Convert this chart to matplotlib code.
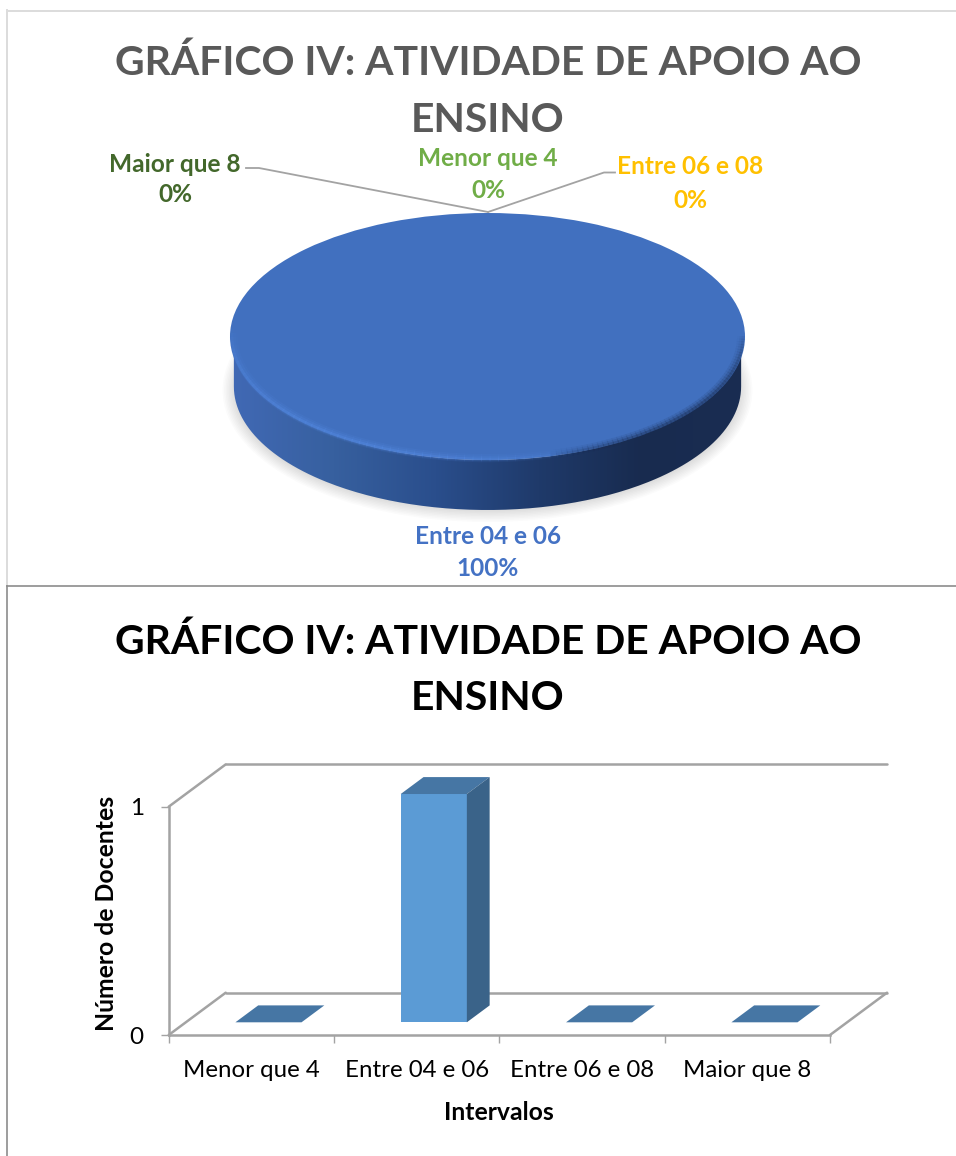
import numpy as np
import matplotlib
matplotlib.use('Agg')
import matplotlib.pyplot as plt
from matplotlib.colors import LinearSegmentedColormap
from matplotlib.patches import Ellipse, PathPatch
from matplotlib.path import Path

W, H = 956, 1156

title = 'GRÁFICO IV: ATIVIDADE DE\u00a0APOIO AO'
title2 = 'ENSINO'

# pie data
pie_names = ['Menor que 4', 'Entre 04 e 06', 'Entre 06 e 08', 'Maior que 8']
pie_values = [0, 100, 0, 0]
pie_colors = ['#70AD47', '#4472C4', '#FFC000', '#43682B']

# bar data
categories = ['Menor que 4', 'Entre 04 e 06', 'Entre 06 e 08', 'Maior que 8']
counts = [0, 1, 0, 0]

GRAY = '#A3A3A3'
plt.rcParams['font.family'] = ['Lato', 'DejaVu Sans']


def px(x):
    return x / W


def py(y):
    return 1 - y / H


def axes_px(x0, y0, x1, y1):
    # axes box given in picture pixels, y going down
    return fig.add_axes([px(x0), py(y1), px(x1 - x0), (y1 - y0) / H])


fig = plt.figure(figsize=(W / 100, H / 100), dpi=100, facecolor='white')

# frame lines around the two charts
frame = fig.add_axes([0, 0, 1, 1], zorder=-1)
frame.set_xlim(0, W)
frame.set_ylim(H, 0)
frame.axis('off')
frame.plot([7, W], [10.5, 10.5], color='#DCDCDC', lw=1.4)
frame.plot([7, 7], [10, 585], color='#DCDCDC', lw=1.4)
frame.plot([7, 7], [586, H], color='#8C8C8C', lw=1.2)
frame.plot([7, W], [586, 586], color='#8C8C8C', lw=1.2)

# titles
fig.text(px(488), py(63), title, color='#595959', fontsize=29.4, fontweight='bold', ha='center', va='center')
fig.text(px(488), py(121), title2, color='#595959', fontsize=29.4, fontweight='bold', ha='center', va='center')
fig.text(px(488), py(642), title, color='black', fontsize=29.4, fontweight='bold', ha='center', va='center')
fig.text(px(488), py(699), title2, color='black', fontsize=29.4, fontweight='bold', ha='center', va='center')

# ---- pie: the axes hold the unit circle squashed, plus the side wall below it
cx0, cx1 = 230, 745
ctop, cbot = 213, 460
ry = (cbot - ctop) / 2
rx = (cx1 - cx0) / 2
margin = 30
depth = 50 / ry
ax = axes_px(cx0 - margin, ctop - margin, cx1 + margin, cbot + 50 + margin)
xl = (-1 - margin / rx, 1 + margin / rx)
yl = (-1 - depth - margin / ry, 1 + margin / ry)

# soft shadow under the disc
for k in np.arange(1, 15):
    ax.add_patch(Ellipse((0.0, -depth - 0.03), 2.07 - 0.012 * k, 2.16 - 0.024 * k,
                         fc='#000000', ec='none', alpha=0.016, zorder=1))

# side wall with horizontal gradient
t = np.linspace(np.pi, 2 * np.pi, 200)
xs = np.concatenate([0.985 * np.cos(t), 0.985 * np.cos(t[::-1])])
ys = np.concatenate([np.sin(t) - depth, np.sin(t[::-1])])
side = PathPatch(Path(np.column_stack([xs, ys])), fc='none', ec='none', transform=ax.transData)
ax.add_patch(side)
cmap = LinearSegmentedColormap.from_list('side', ['#4169B5', '#37609F', '#2A4E8C', '#1F3A6A', '#182B4F', '#1A2D52'])
grad = ax.imshow(np.linspace(0, 1, 256)[None, :], extent=(-1, 1, -1 - depth, 1), aspect='auto',
                 cmap=cmap, zorder=2)
grad.set_clip_path(side)

wedges, _ = ax.pie(pie_values, colors=['#70AD47', '#4170BF', '#FFC000', '#43682B'], radius=1,
                   startangle=90, counterclock=False, wedgeprops={'linewidth': 0})
for w in wedges:
    w.set_zorder(3)


def rim(t0, t1, color, strength):
    # blurred bevel that fades in and out along the arc
    edges = np.linspace(t0, t1, 61)
    for a, b in zip(edges[:-1], edges[1:]):
        fade = np.sin(np.pi * ((a + b) / 2 - t0) / (t1 - t0)) ** 0.6
        t = np.linspace(a, b + 0.003, 4)
        for lw, al, r in [(6, 0.10, 0.985), (4, 0.16, 0.988), (2, 0.30, 0.992)]:
            ax.plot(r * np.cos(t), r * np.sin(t), color=color, lw=lw, alpha=al * fade * strength,
                    zorder=4, solid_capstyle='butt')


rim(0.98 * np.pi, 1.62 * np.pi, '#5A90EA', 1.0)
rim(1.58 * np.pi, 2.0 * np.pi, '#1A2D52', 1.2)

ax.set_aspect('auto')
ax.set_xlim(*xl)
ax.set_ylim(*yl)
ax.axis('off')

# leader lines, in picture pixels
frame.set_zorder(5)
frame.patch.set_visible(False)
frame.plot([246, 259, 488], [168, 168, 212], color=GRAY, lw=1.3)
frame.plot([488, 604, 615], [212, 172.5, 172.5], color=GRAY, lw=1.3)

# pie labels, [name x, name y, value x, value y]
label_pos = [(488, 159, 488, 190), (488, 536, 488, 569), (690.5, 167, 690.5, 200), (175, 164, 175, 195)]
for name, val, col, pos in zip(pie_names, pie_values, pie_colors, label_pos):
    fig.text(px(pos[0]), py(pos[1]), name, color=col, fontsize=17.6, fontweight='bold', ha='center', va='center')
    fig.text(px(pos[2]), py(pos[3]), f'{val}%', color=col, fontsize=17.6, fontweight='bold', ha='center', va='center')

# ---- bars in an oblique 3d look
x0, x1 = 168.7, 830
y0, y1 = 1035, 806.7
ax2 = axes_px(x0, y1, x1, y0)
ax2.set_xlim(0, 4)
ax2.set_ylim(0, 1)
ax2.patch.set_visible(False)
DX = 57 / ((x1 - x0) / 4)
DY = 42.3 / (y0 - y1)
front, back = 0.3, 0.7
bw = 0.4


def oblique(c, v, d):
    return c + d * DX, v + d * DY


# walls and floor
for a, b in [((0, 0, 0), (0, 0, 1)), ((0, 1, 0), (0, 1, 1)), ((0, 1, 1), (4, 1, 1)),
             ((0, 0, 1), (4, 0, 1)), ((4, 0, 0), (4, 0, 1))]:
    p, q = oblique(*a), oblique(*b)
    ax2.plot([p[0], q[0]], [p[1], q[1]], color=GRAY, lw=1.8, clip_on=False, zorder=1, solid_capstyle='round')

for i, v in enumerate(counts):
    c = i + 0.5
    fx, fy = oblique(c, 0, front)
    ax2.bar(fx, v, width=bw, bottom=fy, color='#5B9BD5', linewidth=0, clip_on=False, zorder=3)
    # top face
    pts = [oblique(c - bw / 2, v, front), oblique(c + bw / 2, v, front),
           oblique(c + bw / 2, v, back), oblique(c - bw / 2, v, back)]
    ax2.fill([p[0] for p in pts], [p[1] for p in pts], color='#4676A4', linewidth=0, clip_on=False, zorder=3)
    # side face
    pts = [oblique(c + bw / 2, 0, front), oblique(c + bw / 2, v, front),
           oblique(c + bw / 2, v, back), oblique(c + bw / 2, 0, back)]
    ax2.fill([p[0] for p in pts], [p[1] for p in pts], color='#3A6389', linewidth=0, clip_on=False, zorder=3)

for s in ['top', 'right']:
    ax2.spines[s].set_visible(False)
for s in ['left', 'bottom']:
    ax2.spines[s].set_color(GRAY)
    ax2.spines[s].set_linewidth(1.8)

ax2.set_yticks([0, 1])
ax2.set_yticklabels(['0', '1'], fontsize=17.5, color='black')
ax2.set_xticks(np.arange(5))
ax2.set_xticklabels([])
ax2.set_xticks(np.arange(4) + 0.5, minor=True)
ax2.set_xticklabels(categories, minor=True, fontsize=17.3, color='black')
ax2.tick_params(axis='x', which='major', length=6, width=1, color=GRAY)
ax2.tick_params(axis='x', which='minor', length=0, pad=18)
ax2.tick_params(axis='y', length=6, width=1, color=GRAY, pad=12)

fig.text(px(499), py(1112), 'Intervalos', color='black', fontsize=17.8, fontweight='bold', ha='center', va='center')
fig.text(px(106), py(913), 'Número de Docentes', color='black', fontsize=17.8, fontweight='bold',
         ha='center', va='center', rotation=90)

fig.savefig('out.png', dpi=100)
